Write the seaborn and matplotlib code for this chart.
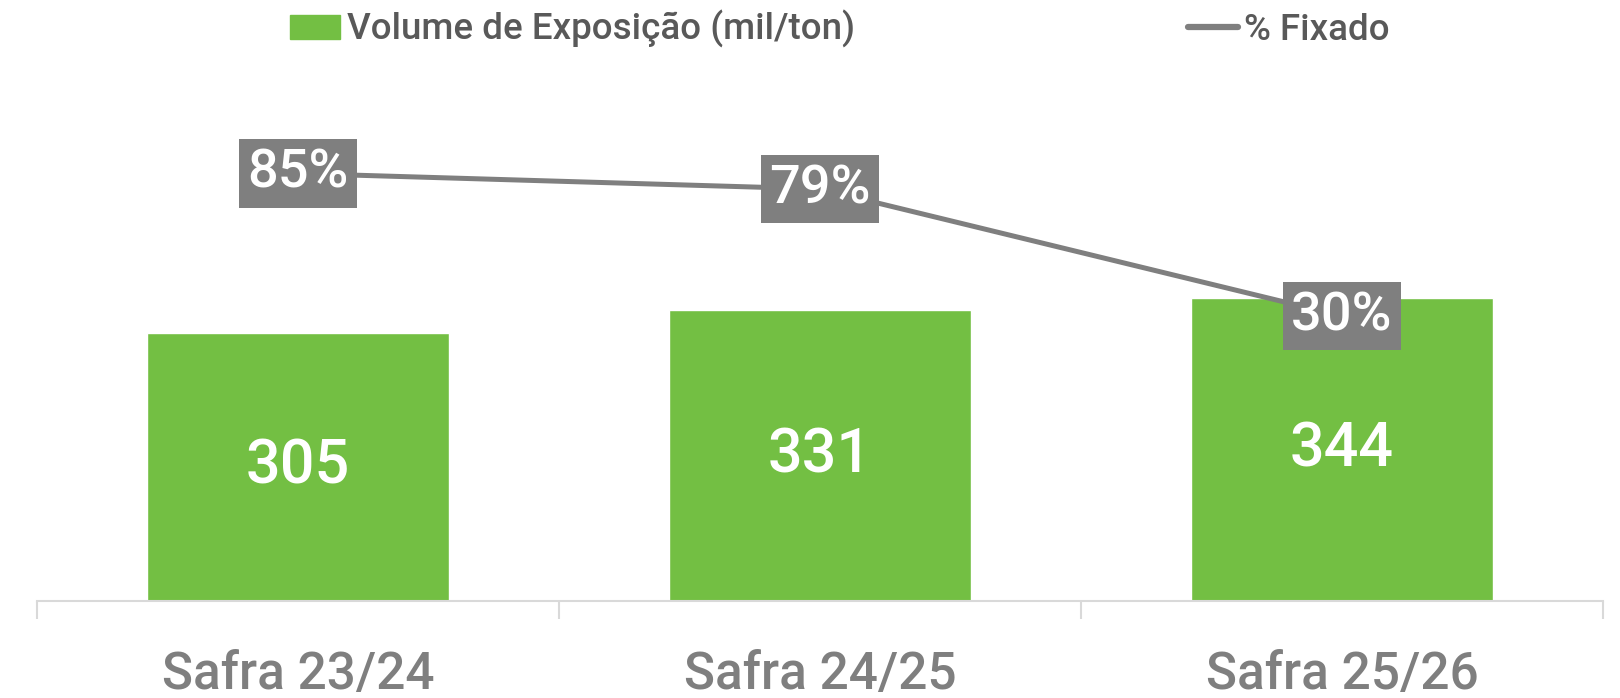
import numpy as np
import pandas as pd
import matplotlib
matplotlib.use("Agg")
import matplotlib.pyplot as plt
from matplotlib.patches import Patch
from matplotlib.lines import Line2D
import seaborn as sns

# data
categories = ["Safra 23/24", "Safra 24/25", "Safra 25/26"]
volume = [305, 331, 344]          # Volume de Exposição (mil/ton)
pct_fixado = [85, 79, 30]         # % Fixado

GREEN = "#73BF43"
GREY = "#7F7F7F"

sns.set_theme(style="white")
plt.rcParams["font.family"] = ["Roboto", "DejaVu Sans"]
plt.rcParams["font.weight"] = "medium"

df = pd.DataFrame({"safra": categories, "volume": volume, "pct": pct_fixado})

fig = plt.figure(figsize=(16.2, 6.98), dpi=100)
ax = fig.add_axes([37 / 1620, 1 - 601 / 698, 1566 / 1620, 526 / 698])

sns.barplot(data=df, x="safra", y="volume", color=GREEN, width=0.58,
            saturation=1, ax=ax)
ax.bar_label(ax.containers[0], label_type="center", color="white",
             fontsize=44, fontweight="medium")
ax.set_ylim(0, 598)
ax.set_xlim(-0.5, 2.5)
ax.set_xlabel("")
ax.set_ylabel("")
ax.set_yticks([])
for s in ["top", "left", "right"]:
    ax.spines[s].set_visible(False)
ax.spines["bottom"].set_color("#D9D9D9")
ax.spines["bottom"].set_linewidth(1.5)
ax.tick_params(axis="x", which="major", length=0, pad=35,
               labelsize=37, labelcolor=GREY)
for lab in ax.get_xticklabels():
    lab.set_fontweight("medium")
ax.set_xticks([-0.5, 0.5, 1.5, 2.5], minor=True)
ax.tick_params(axis="x", which="minor", length=13, width=1.5,
               color="#D9D9D9", bottom=True)

# secondary axis for the percentage line
ax2 = ax.twinx()
sns.lineplot(data=df, x="safra", y="pct", color=GREY, linewidth=3.6,
             sort=False, ax=ax2)
ax2.set_ylim(-80, 123)
ax2.set_yticks([])
ax2.set_ylabel("")
for s in ax2.spines.values():
    s.set_visible(False)

for i, p in enumerate(pct_fixado):
    ax2.text(i, p, f"{p}%", ha="center", va="center", color="white",
             fontsize=39, fontweight="medium",
             bbox=dict(boxstyle="square,pad=0.16", fc=GREY, ec="none"))

handles = [Patch(color=GREEN),
           Line2D([0], [0], color=GREY, linewidth=4.5, solid_capstyle="round")]
fig.legend(handles, ["Volume de Exposição (mil/ton)", "% Fixado"],
           loc="center", bbox_to_anchor=(0.5185, 0.958), ncol=2,
           frameon=False, labelcolor="#595959",
           prop={"size": 26.5, "weight": "medium"},
           handlelength=1.36, handleheight=0.62, handletextpad=0.18,
           columnspacing=9.05)

fig.savefig("out.png", dpi=100)
